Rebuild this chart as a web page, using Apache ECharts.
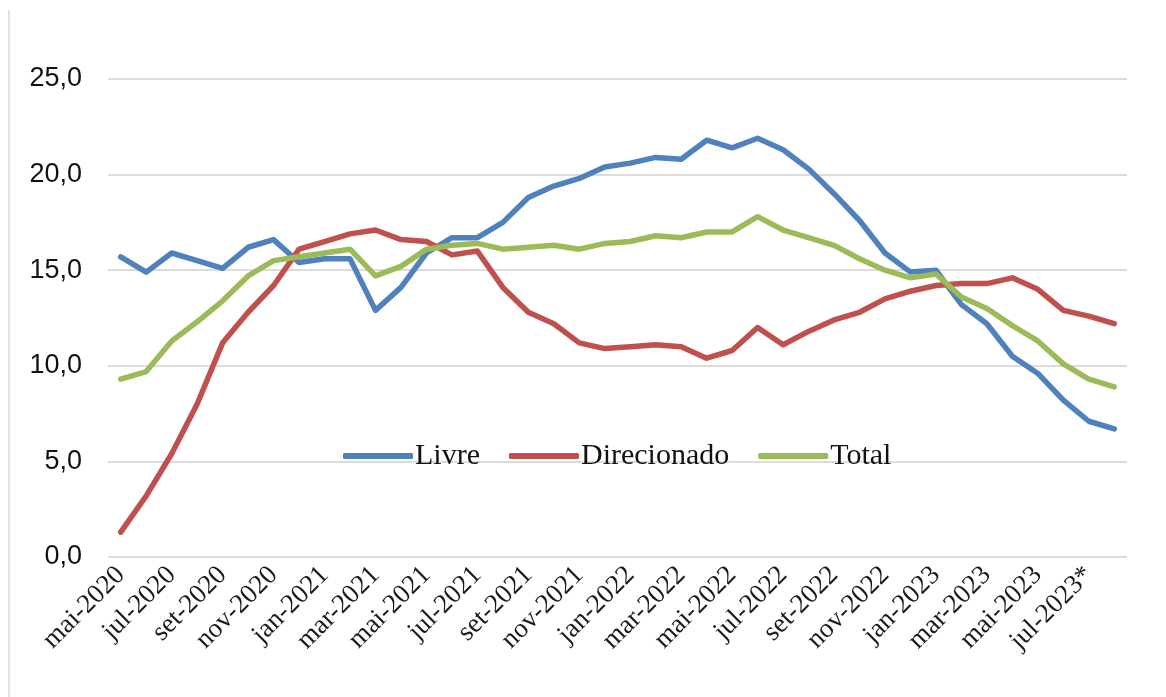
<!DOCTYPE html>
<html>
<head>
<meta charset="utf-8">
<script src="https://cdn.jsdelivr.net/npm/echarts@6/dist/echarts.min.js"></script>
<style>
  html, body { margin: 0; padding: 0; background: #fff; }
  #chart { width: 1166px; height: 697px; }
</style>
</head>
<body>
<div id="chart"></div>
<script>
// Monthly categories, mai-2020 to ago-2023 (jul-2023 marked as preliminary)
const months = [
  'mai-2020','jun-2020','jul-2020','ago-2020','set-2020','out-2020','nov-2020','dez-2020',
  'jan-2021','fev-2021','mar-2021','abr-2021','mai-2021','jun-2021','jul-2021','ago-2021',
  'set-2021','out-2021','nov-2021','dez-2021','jan-2022','fev-2022','mar-2022','abr-2022',
  'mai-2022','jun-2022','jul-2022','ago-2022','set-2022','out-2022','nov-2022','dez-2022',
  'jan-2023','fev-2023','mar-2023','abr-2023','mai-2023','jun-2023','jul-2023*','ago-2023'
];

const livre = [
  15.7, 14.9, 15.9, 15.5, 15.1, 16.2, 16.6, 15.4, 15.6, 15.6,
  12.9, 14.1, 15.9, 16.7, 16.7, 17.5, 18.8, 19.4, 19.8, 20.4,
  20.6, 20.9, 20.8, 21.8, 21.4, 21.9, 21.3, 20.3, 19.0, 17.6,
  15.9, 14.9, 15.0, 13.2, 12.2, 10.5, 9.6, 8.2, 7.1, 6.7
];

const direcionado = [
  1.3, 3.2, 5.4, 8.0, 11.2, 12.8, 14.2, 16.1, 16.5, 16.9,
  17.1, 16.6, 16.5, 15.8, 16.0, 14.1, 12.8, 12.2, 11.2, 10.9,
  11.0, 11.1, 11.0, 10.4, 10.8, 12.0, 11.1, 11.8, 12.4, 12.8,
  13.5, 13.9, 14.2, 14.3, 14.3, 14.6, 14.0, 12.9, 12.6, 12.2
];

const total = [
  9.3, 9.7, 11.3, 12.3, 13.4, 14.7, 15.5, 15.7, 15.9, 16.1,
  14.7, 15.2, 16.1, 16.3, 16.4, 16.1, 16.2, 16.3, 16.1, 16.4,
  16.5, 16.8, 16.7, 17.0, 17.0, 17.8, 17.1, 16.7, 16.3, 15.6,
  15.0, 14.6, 14.8, 13.6, 13.0, 12.1, 11.3, 10.1, 9.3, 8.9
];

const yTicks = [0, 5, 10, 15, 20, 25];

const seriesNames = ['Livre', 'Direcionado', 'Total'];
const seriesColors = ['#4F81BD', '#C0504D', '#9BBB59'];
const seriesData = [livre, direcionado, total];

const chart = echarts.init(document.getElementById('chart'), null, { renderer: 'canvas' });

chart.setOption({
  backgroundColor: '#ffffff',
  animation: false,
  grid: { left: 108, right: 39, top: 79, bottom: 140, containLabel: false },
  legend: {
    data: seriesNames.map(n => ({ name: n, icon: 'roundRect' })),
    left: 338,
    top: 436,
    itemWidth: 70,
    itemHeight: 6,
    itemGap: 29,
    textStyle: { fontFamily: 'Liberation Serif', fontSize: 30, color: '#111', padding: [0, 0, 0, -3] }
  },
  xAxis: {
    type: 'category',
    data: months,
    boundaryGap: true,
    axisLine: { show: false },
    axisTick: { show: false },
    axisLabel: {
      interval: 1,
      rotate: 45,
      margin: 14,
      fontFamily: 'Liberation Serif',
      fontSize: 27,
      color: '#1a1a1a'
    },
    splitLine: { show: false }
  },
  yAxis: {
    type: 'value',
    min: yTicks[0],
    max: yTicks[yTicks.length - 1],
    interval: 5,
    axisLine: { show: false },
    axisTick: { show: false },
    axisLabel: {
      margin: 26,
      fontFamily: 'Liberation Sans',
      fontSize: 27,
      color: '#111',
      formatter: v => v.toFixed(1).replace('.', ',')
    },
    splitLine: { show: true, lineStyle: { color: '#dcdcdc', width: 2 } }
  },
  series: seriesNames.map((name, i) => ({
    name: name,
    type: 'line',
    data: seriesData[i],
    symbol: 'none',
    smooth: false,
    color: seriesColors[i],
    lineStyle: { color: seriesColors[i], width: 5.5, cap: 'round', join: 'round' }
  })),
  graphic: [{
    type: 'line',
    shape: { x1: 9, y1: 10, x2: 9, y2: 697 },
    style: { stroke: '#d9d9d9', lineWidth: 1.5 }
  }]
});
</script>
</body>
</html>
